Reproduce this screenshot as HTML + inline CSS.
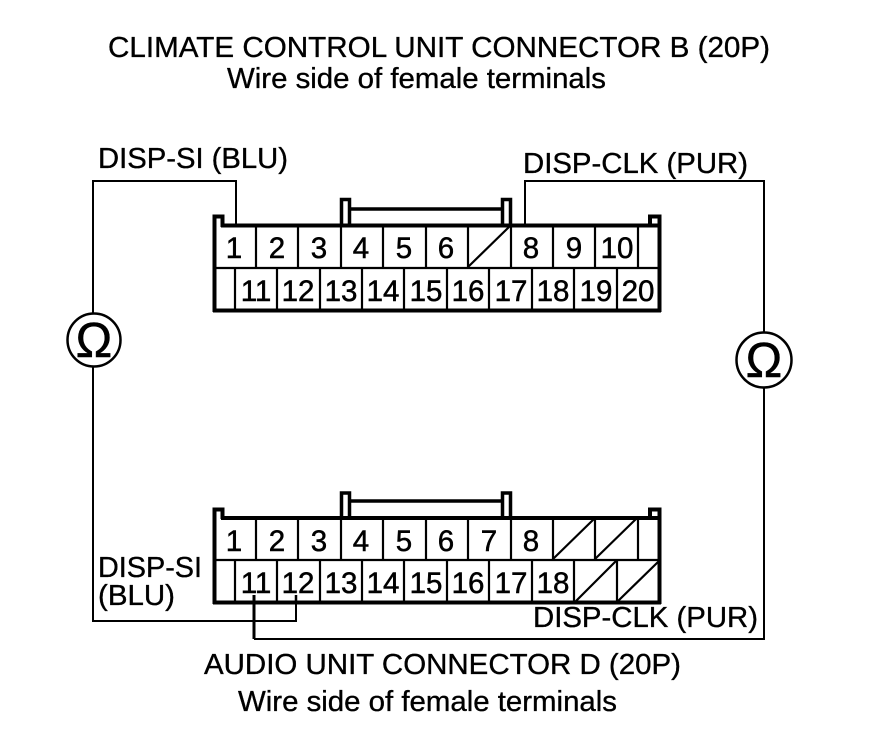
<!DOCTYPE html>
<html>
<head>
<meta charset="utf-8">
<style>
html,body{margin:0;padding:0;background:#fff;width:880px;height:744px;overflow:hidden}
svg{display:block}
text{font-family:"Liberation Sans",sans-serif;fill:#000;font-size:29px;stroke:#000;stroke-width:.35}
.d{font-size:29.500px;text-anchor:middle;stroke-width:.5}
</style>
</head>
<body>
<svg width="880" height="744" viewBox="0 0 880 744" xmlns="http://www.w3.org/2000/svg">
<rect width="880" height="744" fill="#fff"/>

<!-- wires -->
<g fill="none" stroke="#000" stroke-width="2">
<path d="M236 225V181H93V313"/>
<path d="M93 367V621H296V595" />
<path d="M525 225V181H764V333"/>
<path d="M764 388V639H254"/>
</g>
<path d="M254 595V639" stroke="#000" stroke-width="3" fill="none"/>

<!-- top connector -->
<g fill="none" stroke="#000">
<path stroke-width="4" d="M221 225.500H659M213 310.500H661M214.500 312V216.500H222.500V227M659.500 312V216.500H650V227" />
<path stroke-width="3.500" d="M341.500 225V199.500H349.500V225M502.500 225V199.500H510.500V225M349 209H502"/>
<path stroke-width="2.200" d="M214 268H660"/>
<path stroke-width="2.200" d="M256 225V268M298 225V268M341 225V268M383 225V268M426 225V268M468 225V268M511 225V268M553 225V268M595 225V268M638 225V268"/>
<path stroke-width="2.200" d="M235 268V311M277 268V311M320 268V311M362 268V311M404 268V311M447 268V311M489 268V311M532 268V311M574 268V311M617 268V311"/>
<path stroke-width="2.200" d="M468 267L510 226"/>
</g>

<!-- bottom connector -->
<g fill="none" stroke="#000">
<path stroke-width="4" d="M221 518H659M213 602.500H661M214.500 604V509.500H222.500V519M659.500 604V509.500H650V519"/>
<path stroke-width="3.500" d="M341.500 517V493H349.500V517M502.500 517V493H510.500V517M349 501H502"/>
<path stroke-width="2.200" d="M214 560H660"/>
<path stroke-width="2.200" d="M256 517V560M298 517V560M341 517V560M383 517V560M426 517V560M468 517V560M511 517V560M553 517V560M595 517V560M638 517V560"/>
<path stroke-width="2.200" d="M235 560V603M277 560V603M320 560V603M362 560V603M404 560V603M447 560V603M489 560V603M532 560V603M574 560V603M617 560V603"/>
<path stroke-width="2.200" d="M553 559L595 518M595 559L637 518M575 602L616 561M617 602L659 561"/>
</g>

<!-- ohm meters -->
<circle cx="94" cy="340" r="26.500" fill="#fff" stroke="#000" stroke-width="2.500"/>
<circle cx="764" cy="360" r="27.500" fill="#fff" stroke="#000" stroke-width="2.500"/>
<text x="94" y="357" text-anchor="middle" style="font-size:49px;stroke-width:.5">Ω</text>
<text x="764" y="377" text-anchor="middle" style="font-size:49px;stroke-width:.5">Ω</text>

<!-- titles -->
<text x="108" y="57" textLength="662" lengthAdjust="spacingAndGlyphs">CLIMATE CONTROL UNIT CONNECTOR B (20P)</text>
<text x="227" y="88" textLength="379" lengthAdjust="spacingAndGlyphs">Wire side of female terminals</text>
<text x="98" y="168" textLength="190" lengthAdjust="spacingAndGlyphs">DISP-SI (BLU)</text>
<text x="523" y="173" textLength="225" lengthAdjust="spacingAndGlyphs">DISP-CLK (PUR)</text>
<text x="98" y="577" textLength="104" lengthAdjust="spacingAndGlyphs">DISP-SI</text>
<text x="98" y="605" textLength="77" lengthAdjust="spacingAndGlyphs">(BLU)</text>
<text x="533" y="627" textLength="225" lengthAdjust="spacingAndGlyphs">DISP-CLK (PUR)</text>
<text x="204" y="674" textLength="477" lengthAdjust="spacingAndGlyphs">AUDIO UNIT CONNECTOR D (20P)</text>
<text x="238" y="711" textLength="379" lengthAdjust="spacingAndGlyphs">Wire side of female terminals</text>

<!-- top digits -->
<g>
<text class="d" x="234" y="258">1</text><text class="d" x="277" y="258">2</text><text class="d" x="319" y="258">3</text><text class="d" x="361" y="258">4</text><text class="d" x="404" y="258">5</text><text class="d" x="446" y="258">6</text><text class="d" x="531" y="258">8</text><text class="d" x="574" y="258">9</text><text class="d" x="617" y="258">10</text>
<text class="d" x="256" y="301">11</text><text class="d" x="298" y="301">12</text><text class="d" x="341" y="301">13</text><text class="d" x="383" y="301">14</text><text class="d" x="426" y="301">15</text><text class="d" x="468" y="301">16</text><text class="d" x="511" y="301">17</text><text class="d" x="553" y="301">18</text><text class="d" x="596" y="301">19</text><text class="d" x="638" y="301">20</text>
</g>
<!-- bottom digits -->
<g>
<text class="d" x="234" y="551">1</text><text class="d" x="277" y="551">2</text><text class="d" x="319" y="551">3</text><text class="d" x="361" y="551">4</text><text class="d" x="404" y="551">5</text><text class="d" x="446" y="551">6</text><text class="d" x="489" y="551">7</text><text class="d" x="531" y="551">8</text>
<text class="d" x="256" y="593">11</text><text class="d" x="298" y="593">12</text><text class="d" x="341" y="593">13</text><text class="d" x="383" y="593">14</text><text class="d" x="426" y="593">15</text><text class="d" x="468" y="593">16</text><text class="d" x="511" y="593">17</text><text class="d" x="553" y="593">18</text>
</g>
<!-- wire tips over digits -->
<path d="M254 595V604M296 595V604" stroke="#000" stroke-width="2.500" fill="none"/>
</svg>
</body>
</html>
